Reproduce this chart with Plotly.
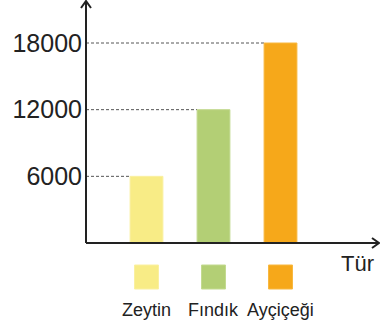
import plotly.graph_objects as go

categories = ["Zeytin", "Fındık", "Ayçiçeği"]
values = [6000, 12000, 18000]
colors = ["#F8EC86", "#B3CF75", "#F6A81A"]
edge_colors = ["#FAF0A0", "#C3DA90", "#F8B840"]
tick_vals = [6000, 12000, 18000]
x_title = "Tür"

W, H = 380, 329
L, R, T, B = 86, 0, 0, 86
pw, ph = W - L - R, H - T - B

xs = list(range(len(categories)))
xmin, xmax = -0.903, 3.485
ymax = 21870
bw = 0.49

def px2paper_x(px):
    return (px - L) / pw

def py2paper_y(py):
    return (H - B - py) / ph

fig = go.Figure()
fig.add_trace(go.Bar(
    x=xs, y=values, width=bw,
    marker=dict(color=colors, line=dict(color=edge_colors, width=1)),
    showlegend=False, hoverinfo="skip",
))

shapes = []
for x, v in zip(xs, values):
    shapes.append(dict(type="line", xref="x", yref="y", x0=xmin, x1=x - bw / 2, y0=v, y1=v,
                       line=dict(color="#555555", width=1, dash="3px,2px"), layer="below"))

axis_col = "#222222"
shapes.append(dict(type="line", xref="paper", yref="paper", x0=0, x1=0, y0=0, y1=py2paper_y(1),
                   line=dict(color=axis_col, width=2)))
shapes.append(dict(type="path", xref="paper", yref="paper",
                   path=f"M {px2paper_x(81)},{py2paper_y(8)} L {px2paper_x(86)},{py2paper_y(1)} L {px2paper_x(91)},{py2paper_y(8)}",
                   line=dict(color=axis_col, width=2)))
shapes.append(dict(type="line", xref="paper", yref="paper", x0=0, x1=px2paper_x(379), y0=0, y1=0,
                   line=dict(color=axis_col, width=2)))
shapes.append(dict(type="path", xref="paper", yref="paper",
                   path=f"M {px2paper_x(372)},{py2paper_y(238)} L {px2paper_x(379)},{py2paper_y(243)} L {px2paper_x(372)},{py2paper_y(248)}",
                   line=dict(color=axis_col, width=2)))

half = 12 / pw * (xmax - xmin)
for x, c, ec in zip(xs, colors, edge_colors):
    shapes.append(dict(type="rect", xref="x", yref="paper", x0=x - half, x1=x + half,
                       y0=py2paper_y(289), y1=py2paper_y(265),
                       fillcolor=c, line=dict(color=ec, width=1)))

annotations = []
for x, name in zip(xs, categories):
    annotations.append(dict(x=x, y=py2paper_y(310), xref="x", yref="paper", text=name,
                            showarrow=False, font=dict(size=18, color="#222222"),
                            xanchor="center", yanchor="middle"))
annotations.append(dict(x=px2paper_x(376), y=py2paper_y(263), xref="paper", yref="paper",
                        text=x_title, showarrow=False, font=dict(size=22, color="#222222"),
                        xanchor="right", yanchor="middle"))

fig.update_layout(
    width=W, height=H,
    margin=dict(l=L, r=R, t=T, b=B, pad=0),
    paper_bgcolor="white", plot_bgcolor="white",
    font=dict(family="Liberation Sans, Arial, sans-serif", color="#222222"),
    shapes=shapes, annotations=annotations,
    xaxis=dict(range=[xmin, xmax], showgrid=False, zeroline=False, showline=False,
               showticklabels=False, ticks="", automargin=False, fixedrange=True),
    yaxis=dict(range=[0, ymax], showgrid=False, zeroline=False, showline=False,
               tickvals=tick_vals, ticktext=[str(v) for v in tick_vals],
               tickfont=dict(size=25, color="#222222"), ticks="", ticklabelstandoff=3,
               automargin=False, fixedrange=True),
    showlegend=False,
)

fig.write_html("out.html", config={"displayModeBar": False},
               post_script="document.body.style.margin='0';document.body.style.overflow='hidden';")
